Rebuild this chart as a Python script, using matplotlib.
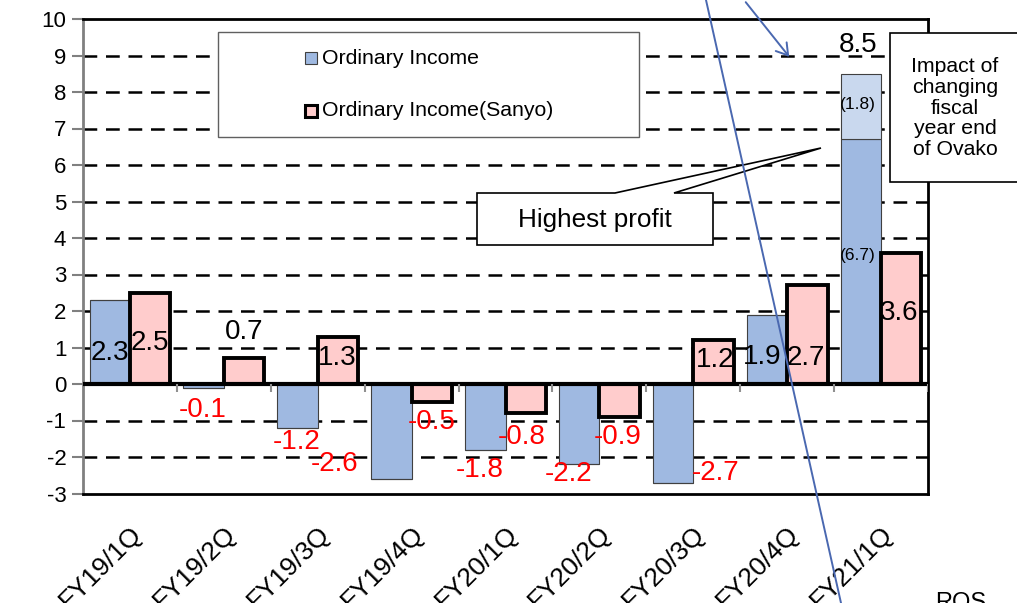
import numpy as np
import matplotlib.pyplot as plt
import matplotlib.transforms as mtransforms
from matplotlib.patches import Polygon, Rectangle, FancyArrowPatch
from matplotlib.lines import Line2D

plt.rcParams['font.family'] = ['Liberation Sans', 'DejaVu Sans']
plt.rcParams['axes.unicode_minus'] = False

quarters = ['FY19/1Q', 'FY19/2Q', 'FY19/3Q', 'FY19/4Q', 'FY20/1Q',
            'FY20/2Q', 'FY20/3Q', 'FY20/4Q', 'FY21/1Q']
ordinary = [2.3, -0.1, -1.2, -2.6, -1.8, -2.2, -2.7, 1.9, 6.7]
ovako_impact = [0, 0, 0, 0, 0, 0, 0, 0, 1.8]
sanyo = [2.5, 0.7, 1.3, -0.5, -0.8, -0.9, 1.2, 2.7, 3.6]

# label anchor positions (x offset from category centre, y in data units)
ord_lab_pos = [(-0.21, 0.85), (-0.22, -0.72), (-0.22, -1.6), (-0.82, -2.2),
               (-0.27, -2.36), (-0.33, -2.47), (0.24, -2.44), (-0.27, 0.74), (-0.245, 3.53)]
sanyo_lab_pos = [(0.21, 1.12), (0.22, 1.42), (0.21, 0.71), (0.21, -1.04),
                 (0.17, -1.45), (0.19, -1.45), (0.23, 0.66), (0.2, 0.71), (0.19, 1.95)]

BLUE = '#9fb9e1'
LBLUE = '#c9d8ee'
PINK = '#ffcccc'

fig = plt.figure(figsize=(10.17, 6.03), dpi=100)
ax = fig.add_axes([83 / 1017, 1 - 493.5 / 603, 845 / 1017, 474.5 / 603])

x = np.arange(len(quarters)) + 0.5
w = 0.43

ax.bar(x - w / 2, ordinary, w, color=BLUE, edgecolor='#404040', linewidth=0.8, zorder=3)
ax.bar(x - w / 2, ovako_impact, w, bottom=ordinary, color=LBLUE, edgecolor='#404040',
       linewidth=0.8, zorder=3)
ax.bar(x + w / 2, sanyo, w, color=PINK, edgecolor='black', linewidth=2.8, zorder=3)

for i in range(len(quarters)):
    dx, yy = ord_lab_pos[i]
    if i == 8:
        ax.text(x[i] + dx, yy, '(%.1f)' % ordinary[i], ha='center', va='center',
                fontsize=12.5, zorder=5)
        ax.text(x[i] + dx, ordinary[i] + ovako_impact[i] / 2 + 0.05,
                '(%.1f)' % ovako_impact[i], ha='center', va='center', fontsize=12.5, zorder=5)
        ax.text(x[i] + dx, 9.3, '%.1f' % (ordinary[i] + ovako_impact[i]),
                ha='center', va='center', fontsize=20, zorder=5)
    else:
        c = 'red' if ordinary[i] < 0 else 'black'
        ax.text(x[i] + dx, yy, '%.1f' % ordinary[i], ha='center', va='center',
                fontsize=20, color=c, zorder=5)
    dx, yy = sanyo_lab_pos[i]
    c = 'red' if sanyo[i] < 0 else 'black'
    ax.text(x[i] + dx, yy, '%.1f' % sanyo[i], ha='center', va='center',
            fontsize=20, color=c, zorder=5)

ax.set_xlim(0, len(quarters))
ax.set_ylim(-3, 10)
ax.set_yticks(range(-3, 11))
ax.tick_params(axis='y', length=8, width=1.5, color='#808080', labelsize=16, pad=4)
for yv in range(-2, 10):
    if yv != 0:
        ax.axhline(yv, color='black', lw=1.8, ls=(0, (5.5, 3.5)), zorder=1)
ax.axhline(0, color='black', lw=3, zorder=4)
ax.vlines(np.arange(1, len(quarters) + 1), -0.22, 0, color='#909090', lw=1.5, zorder=4)

ax.set_xticks(x)
ax.set_xticklabels(quarters, rotation=45, ha='right', va='center', rotation_mode='anchor',
                   fontsize=19)
ax.tick_params(axis='x', length=0, pad=26)
shift = mtransforms.ScaledTranslation(0.08, 0, fig.dpi_scale_trans)
for lab in ax.get_xticklabels():
    lab.set_transform(lab.get_transform() + shift)

for s in ['top', 'right', 'bottom']:
    ax.spines[s].set_color('black')
    ax.spines[s].set_linewidth(2)
ax.spines['left'].set_color('#808080')
ax.spines['left'].set_linewidth(2)


def px(xp, yp):
    return (xp / 1017, 1 - yp / 603)


# legend box
fig.patches.append(Rectangle(px(218, 137), 421 / 1017, 105 / 603, transform=fig.transFigure,
                             facecolor='white', edgecolor='#606060', lw=1, zorder=6))
fig.patches.append(Rectangle(px(305, 64), 12 / 1017, 12 / 603, transform=fig.transFigure,
                             facecolor=BLUE, edgecolor='#404040', lw=0.8, zorder=7))
fig.patches.append(Rectangle(px(305, 117), 12 / 1017, 12 / 603, transform=fig.transFigure,
                             facecolor=PINK, edgecolor='black', lw=2.2, zorder=7))
fig.text(*px(322, 58), 'Ordinary Income', fontsize=15.3, va='center', zorder=8)
fig.text(*px(322, 111), 'Ordinary Income(Sanyo)', fontsize=15.3, va='center', zorder=8)

# highest profit callout
callout = [(477, 193), (615, 193), (821, 148), (674, 193), (713, 193), (713, 245), (477, 245)]
fig.patches.append(Polygon([px(a, b) for a, b in callout], closed=True, transform=fig.transFigure,
                           facecolor='white', edgecolor='black', lw=1.2, zorder=6))
fig.text(*px(595, 220), 'Highest profit', fontsize=18.8, ha='center', va='center', zorder=8)

# impact box
fig.patches.append(Rectangle(px(890, 182), 140 / 1017, 149 / 603, transform=fig.transFigure,
                             facecolor='white', edgecolor='black', lw=1.2, zorder=6))
fig.text(*px(955, 108), 'Impact of\nchanging\nfiscal\nyear end\nof Ovako', fontsize=15.3,
         ha='center', va='center', linespacing=1.12, zorder=8)

# stray connector lines from the slide
fig.lines.append(Line2D([706 / 1017, 841 / 1017], [1, 0], transform=fig.transFigure,
                        color='#4a68b0', lw=1.4, zorder=10))
fig.patches.append(FancyArrowPatch(px(744, 0), px(791, 59), transform=fig.transFigure,
                                   arrowstyle='->,head_length=8,head_width=5',
                                   color='#4a68b0', lw=1.4, zorder=10))
fig.text(*px(935, 592), 'ROS', fontsize=17, va='top', zorder=8)

fig.savefig('out.png', dpi=100)
